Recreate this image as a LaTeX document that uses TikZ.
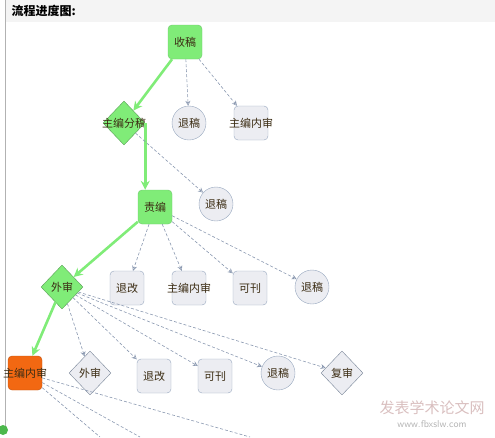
\documentclass[tikz,border=0pt]{standalone}
\usepackage{fontspec}
\usepackage{tikz}
\usetikzlibrary{shapes.geometric,arrows.meta}
\newfontfamily\cjk{Noto Sans CJK SC}
\definecolor{flowgreen}{RGB}{128,236,120}
\definecolor{flowgreenline}{RGB}{112,200,110}
\definecolor{boxgray}{RGB}{236,237,242}
\definecolor{boxline}{RGB}{150,166,190}
\definecolor{dashline}{RGB}{138,152,176}
\definecolor{doneorange}{RGB}{242,104,18}
\definecolor{txtbrown}{RGB}{60,45,20}
\definecolor{headgray}{RGB}{244,244,244}
\tikzset{
    every node/.append style={font=\cjk\fontsize{11}{11}\selectfont,text=txtbrown},
    rbox/.style={rectangle,rounded corners=4pt,draw=boxline,fill=boxgray,minimum size=34pt,inner sep=0pt},
    gbox/.style={rbox,draw=flowgreenline,fill=flowgreen},
    obox/.style={rbox,draw=doneorange!80!black,fill=doneorange},
    rcirc/.style={circle,draw=boxline,fill=boxgray,minimum size=34pt,inner sep=0pt},
    rdiam/.style={diamond,draw=boxline!80!black,fill=boxgray,minimum width=42pt,minimum height=44pt,inner sep=0pt},
    gdiam/.style={rdiam,draw=flowgreenline!80!black,fill=flowgreen},
    done/.style={draw=flowgreen,line width=2.6pt,-{Stealth[length=9pt,width=9pt]}},
    todo/.style={draw=dashline,densely dashed,line width=0.6pt,-{Stealth[open,length=5pt,width=5pt]}}
}

\begin{document}
\begin{tikzpicture}[x=1pt,y=-1pt]
    \useasboundingbox (0,0) rectangle (495,437);
    % header
    \fill[headgray] (5,0) rectangle (495,22);
    \draw[gray!60] (5,0) -- (5,426);
    \node[anchor=west,font=\cjk\bfseries\fontsize{12}{12}\selectfont,text=black] (title) at (8,11) {流程进度图:};

    % row 1
    \node[gbox,label=center:收稿] (shougao) at (185,42) {};
    % row 2
    \node[gdiam,label=center:主编分稿] (fengao) at (124,123) {};
    \node[rcirc,label=center:退稿] (tuigaoA) at (189,123) {};
    \node[rbox,label=center:主编内审] (neishenA) at (251,123) {};
    % row 3
    \node[gbox,label=center:责编] (zebian) at (155,207) {};
    \node[rcirc,label=center:退稿] (tuigaoB) at (216,204) {};
    % row 4
    \node[gdiam,label=center:外审] (waishen) at (62,287) {};
    \node[rbox,label=center:退改] (tuigaiA) at (127,288) {};
    \node[rbox,label=center:主编内审] (neishenB) at (189,288) {};
    \node[rbox,label=center:可刊] (kekanA) at (250,288) {};
    \node[rcirc,label=center:退稿] (tuigaoC) at (312,287) {};
    % row 5
    \node[obox,label=center:主编内审] (neishenC) at (25,373) {};
    \node[rdiam,label=center:外审] (waishenB) at (90,373) {};
    \node[rbox,label=center:退改] (tuigaiB) at (154,376) {};
    \node[rbox,label=center:可刊] (kekanB) at (215,376) {};
    \node[rcirc,label=center:退稿] (tuigaoD) at (278,373) {};
    \node[rdiam,label=center:复审] (fushen) at (342,373) {};

    % steps done
    \draw[done] (shougao) -- (fengao);
    \draw[done] (fengao.east) -- (fengao.east |- zebian.north);
    \draw[done] (zebian) -- (waishen);
    \draw[done] (waishen) -- (neishenC);

    % other ways
    \draw[todo] (shougao) -- (tuigaoA);
    \draw[todo] (shougao) -- (neishenA);
    \draw[todo] (fengao) -- (tuigaoB);
    \foreach \t in {tuigaiA,neishenB,kekanA,tuigaoC}
        \draw[todo] (zebian) -- (\t);
    \foreach \t in {waishenB,tuigaiB,kekanB,tuigaoD,fushen}
        \draw[todo] (waishen) -- (\t);
    \coordinate (cutA) at (100,437);
    \coordinate (cutB) at (140,437);
    \coordinate (cutC) at (250,437);
    \foreach \c in {cutA,cutB,cutC}
        \draw[draw=dashline,densely dashed,line width=0.6pt] (neishenC) -- (\c);

    % corner dot and watermark
    \fill[green!60!black!70] (3,430) circle (5);
    \node[font=\cjk\fontsize{15}{15}\selectfont,text=red!25!gray!40] (mark) at (432,408) {发表学术论文网};
    \node[font=\sffamily\fontsize{10}{10}\selectfont,text=gray!60] (site) at (432,424) {www.fbxslw.com};
\end{tikzpicture}
\end{document}
